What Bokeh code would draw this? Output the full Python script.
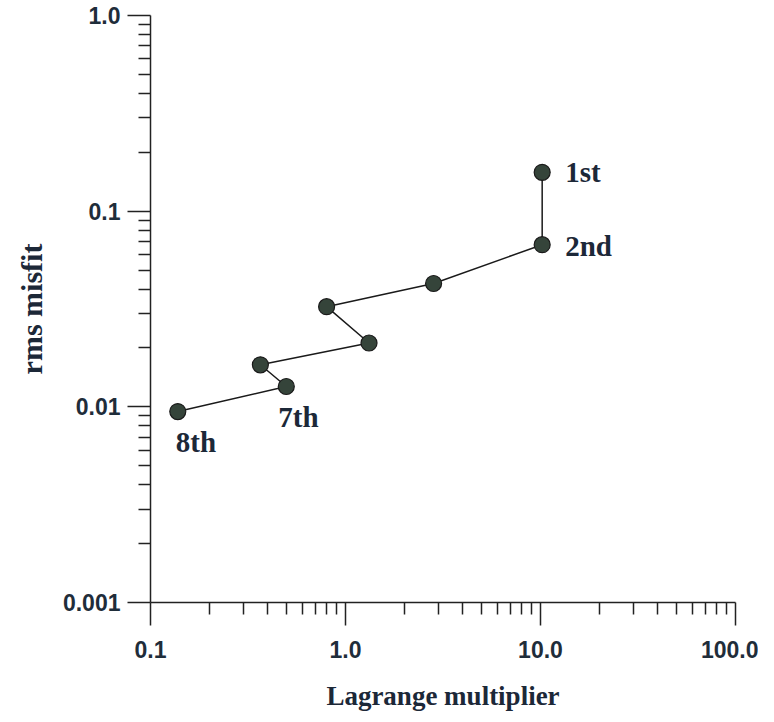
from bokeh.plotting import figure
from bokeh.models import FixedTicker, ColumnDataSource
from bokeh.embed import file_html
from bokeh.resources import INLINE
from bokeh.core.properties import value

# Data
lagrange = [10.2, 10.2, 2.83, 0.80, 1.32, 0.366, 0.497, 0.138]
misfit = [0.158, 0.0674, 0.0427, 0.0325, 0.0212, 0.0164, 0.0127, 0.00946]
labels = ["1st", "2nd", "", "", "", "", "7th", "8th"]

x_ticks = [0.1, 1.0, 10.0, 100.0]
x_tick_labels = ["0.1", "1.0", "10.0", "100.0"]
y_ticks = [0.001, 0.01, 0.1, 1.0]
y_tick_labels = ["0.001", "0.01", "0.1", "1.0"]

p = figure(width=758, height=717, x_axis_type="log", y_axis_type="log",
           x_range=(0.1, 100), y_range=(0.001, 1.0),
           output_backend="svg", toolbar_location=None,
           min_border_left=150, min_border_right=23, min_border_top=15, min_border_bottom=115)
p.outline_line_color = None
p.xgrid.visible = False
p.ygrid.visible = False
p.background_fill_color = "white"
p.border_fill_color = "white"

def minors(lo_exp, hi_exp):
    out = []
    for e in range(lo_exp, hi_exp):
        for m in range(2, 10):
            out.append(m * 10.0 ** e)
    return out

p.xaxis.ticker = FixedTicker(ticks=x_ticks, minor_ticks=minors(-1, 2))
p.yaxis.ticker = FixedTicker(ticks=y_ticks, minor_ticks=minors(-3, 0))
p.xaxis.major_label_overrides = {t: l for t, l in zip(x_ticks, x_tick_labels)}
p.yaxis.major_label_overrides = {t: l for t, l in zip(y_ticks, y_tick_labels)}

for ax in (p.xaxis[0], p.yaxis[0]):
    ax.axis_line_color = "#222222"
    ax.axis_line_width = 1.5
    ax.major_tick_line_color = "#222222"
    ax.minor_tick_line_color = "#222222"
    ax.major_tick_line_width = 1.5
    ax.minor_tick_line_width = 1.5
    ax.major_tick_in = 0
    ax.minor_tick_in = 0
    ax.major_tick_out = 23
    ax.minor_tick_out = 12
    ax.major_label_text_font = "Liberation Sans"
    ax.major_label_text_font_style = "bold"
    ax.major_label_text_font_size = "23px"
    ax.major_label_text_color = "#1f2d3a"
    ax.axis_label_text_font = "Liberation Serif"
    ax.axis_label_text_font_style = "bold"
    ax.axis_label_text_color = "#1c2838"

p.xaxis.major_label_standoff = 15
p.yaxis.major_label_standoff = 7
p.xaxis.axis_label = "Lagrange multiplier"
p.xaxis.axis_label_text_font_size = "27px"
p.xaxis.axis_label_standoff = 20
p.yaxis.axis_label = "rms misfit"
p.yaxis.axis_label_text_font_size = "30px"
p.yaxis.axis_label_standoff = 12

src = ColumnDataSource(data=dict(x=lagrange, y=misfit, label=labels))
p.line("x", "y", source=src, line_color="#1a1a1a", line_width=1.5)
p.scatter("x", "y", source=src, size=16, fill_color="#35443a", line_color="#1a1a1a", line_width=1.2)

# point labels
lab_x = [lagrange[0], lagrange[1], lagrange[6], lagrange[7]]
lab_y = [misfit[0], misfit[1], misfit[6], misfit[7]]
lab_t = [labels[0], labels[1], labels[6], labels[7]]
lab_dx = [23, 23, -8, -2]
lab_dy = [0, 1, 30, 30]
lsrc = ColumnDataSource(data=dict(x=lab_x, y=lab_y, t=lab_t, dx=lab_dx, dy=lab_dy))
p.text("x", "y", text="t", source=lsrc, x_offset="dx", y_offset="dy",
       text_font=value("Liberation Serif"), text_font_style="bold",
       text_font_size="29px", text_color="#1c2838",
       text_baseline="middle", text_align="left")

open("out.html", "w").write(file_html(p, INLINE))
